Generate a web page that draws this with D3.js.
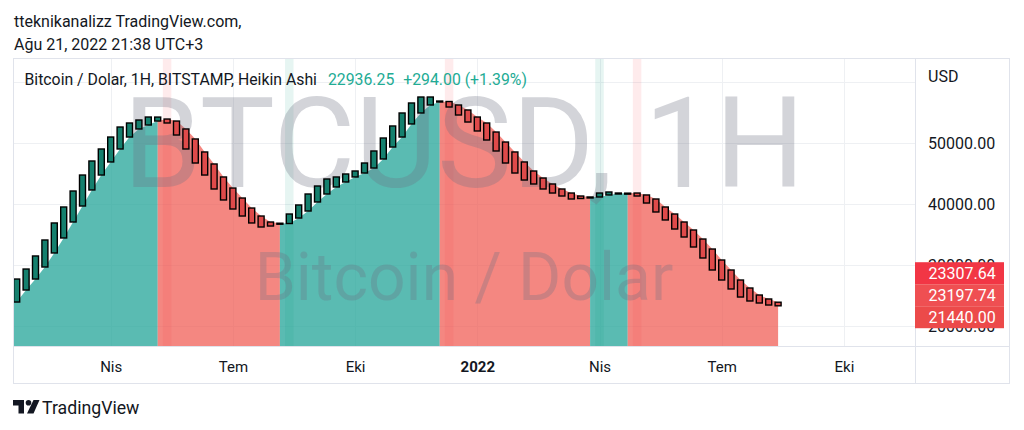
<!DOCTYPE html>
<html><head><meta charset="utf-8">
<script src="https://cdn.jsdelivr.net/npm/d3@7"></script>
<style>
html,body{margin:0;padding:0;background:#fff;}
svg{display:block;font-family:Roboto,"Noto Sans",sans-serif;}
</style></head><body>
<svg id="c" width="1024" height="430"></svg>
<script>
// ---------- data ----------
const weeks = [
"2021-01-25","2021-02-01","2021-02-08","2021-02-15","2021-02-22","2021-03-01","2021-03-08","2021-03-15","2021-03-22","2021-03-29",
"2021-04-05","2021-04-12","2021-04-19","2021-04-26","2021-05-03","2021-05-10","2021-05-17","2021-05-24","2021-05-31","2021-06-07",
"2021-06-14","2021-06-21","2021-06-28","2021-07-05","2021-07-12","2021-07-19","2021-07-26","2021-08-02","2021-08-09","2021-08-16",
"2021-08-23","2021-08-30","2021-09-06","2021-09-13","2021-09-20","2021-09-27","2021-10-04","2021-10-11","2021-10-18","2021-10-25",
"2021-11-01","2021-11-08","2021-11-15","2021-11-22","2021-11-29","2021-12-06","2021-12-13","2021-12-20","2021-12-27","2022-01-03",
"2022-01-10","2022-01-17","2022-01-24","2022-01-31","2022-02-07","2022-02-14","2022-02-21","2022-02-28","2022-03-07","2022-03-14",
"2022-03-21","2022-03-28","2022-04-04","2022-04-11","2022-04-18","2022-04-25","2022-05-02","2022-05-09","2022-05-16","2022-05-23",
"2022-05-30","2022-06-06","2022-06-13","2022-06-20","2022-06-27","2022-07-04","2022-07-11","2022-07-18","2022-07-25","2022-08-01",
"2022-08-08","2022-08-15"];
const haOpen = [
23930,25900,27700,29670,31970,34430,37050,39670,42300,44750,
46890,49020,50980,52300,52950,53600,53930,53600,52300,50660,
48530,46560,44430,42620,40980,39340,38030,37050,36850,36800,
37700,38850,40330,41640,42790,43610,44430,45080,45900,47380,
49340,50980,53120,54920,56230,56720,56800,56230,55410,54260,
53280,51800,50160,48530,46890,45410,44260,43280,42460,41800,
41310,41150,41150,41480,41720,41760,41800,41480,40820,39510,
38360,37050,35740,34260,32620,30820,29180,27540,26230,25080,
24430,23900];
const haClose = [
27700,29340,31480,34100,36890,39510,42130,44750,47050,49020,
50980,52620,53280,53770,54260,54250,53280,51310,49020,46720,
44750,42460,40660,39180,38030,36890,36230,36390,36720,38360,
39840,41640,42950,44100,44430,44920,45410,46720,48690,50820,
52790,54920,56560,57540,57540,56880,55900,54590,53440,51970,
50490,48690,46720,45080,43930,43280,42460,41800,41310,40820,
40900,41070,41800,41970,41800,41780,41310,40160,38690,37380,
35900,34590,32950,31150,29180,27540,26070,24750,24100,23770,
23440,23310];
const signalWeeks = ["2021-05-17","2021-08-16","2021-12-13","2022-04-04","2022-05-02"];
const signalDirs = ["down","up","down","up","down"];
const gridPrices = [60000,50000,40000,30000,20000];
const priceTickValues = [50000,40000,30000,20000];
const timeTickDates = ["2021-04-05","2021-07-05","2021-10-04","2022-01-03","2022-04-04","2022-07-04","2022-10-03"];
const timeTickLabels = ["Nis","Tem","Eki","2022","Nis","Tem","Eki"];
const priceTags = [23307.64, 23197.74, 21440.00];
const headerLines = ["tteknikanalizz TradingView.com,","Ağu 21, 2022 21:38 UTC+3"];
const legendTitle = "Bitcoin / Dolar, 1H, BITSTAMP, Heikin Ashi";
const legendLast = "22936.25";
const legendChange = "+294.00 (+1.39%)";
const watermark1 = "BTCUSD, 1H";
const watermark2 = "Bitcoin / Dolar";

// ---------- layout ----------
const paneL=13, paneR=915, paneT=58, paneB=346, axisB=384, frameR=1010;
const txt="#131722", borderCol="#e0e3eb", gridCol="#eef0f3";
const upFill="#15806e", downFill="#df4a4a";
const upArea="rgba(38,166,154,0.76)", downArea="rgba(240,84,76,0.70)";
const parse = d3.utcParse("%Y-%m-%d");
const svg = d3.select("#c");

const data = weeks.map((w,i)=>({date:parse(w), open:haOpen[i], close:haClose[i]}));
const isUp = d=>d.close>=d.open;

const x = d3.scaleUtc().domain([data[0].date, data[data.length-1].date]).range([paneL+3.7, paneL+3.7+9.4*(data.length-1)]);
const y = d3.scaleLinear().domain([20000,50000]).range([326,143]);
const step = x(data[1].date)-x(data[0].date);

svg.append("defs").append("clipPath").attr("id","pane")
  .append("rect").attr("x",paneL).attr("y",paneT).attr("width",paneR-paneL).attr("height",paneB-paneT);

// grid
const g = svg.append("g").attr("clip-path","url(#pane)");
g.selectAll("line.h").data(gridPrices).join("line").attr("class","h")
  .attr("x1",paneL).attr("x2",paneR).attr("y1",d=>Math.round(y(d))+0.5).attr("y2",d=>Math.round(y(d))+0.5)
  .attr("stroke",gridCol).attr("stroke-width",1);
g.selectAll("line.v").data(timeTickDates.map(parse)).join("line").attr("class","v")
  .attr("y1",paneT).attr("y2",paneB).attr("x1",d=>Math.round(x(d))+0.5).attr("x2",d=>Math.round(x(d))+0.5)
  .attr("stroke",gridCol).attr("stroke-width",1);

// area runs, coloured by direction of the next bar
const runs=[]; let cur=null;
for(let i=0;i<data.length-1;i++){
  const col = isUp(data[i+1])?"up":"down";
  if(!cur||cur.col!==col){cur={col,pts:[data[i]]};runs.push(cur);}
  cur.pts.push(data[i+1]);
}
runs[0].pts.unshift({date:x.invert(paneL), open:data[0].open});
const area = d3.area().x(d=>x(d.date)).y0(paneB).y1(d=>y(d.open));
g.selectAll("path.area").data(runs).join("path").attr("class","area")
  .attr("d",r=>area(r.pts)).attr("fill",r=>r.col==="up"?upArea:downArea);

// signal stripes
g.selectAll("rect.sig").data(signalWeeks.map((w,i)=>({date:parse(w),dir:signalDirs[i]}))).join("rect").attr("class","sig")
  .attr("x",d=>x(d.date)-step*0.45).attr("width",step*0.9).attr("y",paneT).attr("height",paneB-paneT)
  .attr("fill",d=>d.dir==="up"?"rgba(8,153,129,0.10)":"rgba(242,54,69,0.10)");

// watermark
const wm = g.append("g").attr("fill","rgba(110,114,128,0.30)").attr("text-anchor","middle");
wm.append("text").attr("x",(paneL+paneR)/2).attr("y",187).attr("font-size",126).text(watermark1);
wm.append("text").attr("x",(paneL+paneR)/2).attr("y",300).attr("font-size",66).text(watermark2);

// candles
g.selectAll("rect.c").data(data).join("rect").attr("class","c")
  .attr("x",d=>x(d.date)-3).attr("width",6)
  .attr("y",d=>y(Math.max(d.open,d.close)))
  .attr("height",d=>Math.max(Math.abs(y(d.open)-y(d.close)),1))
  .attr("fill",d=>isUp(d)?upFill:downFill)
  .attr("stroke","#000").attr("stroke-width",1.4);

// frame
const fr = svg.append("g").attr("stroke",borderCol).attr("fill","none").attr("stroke-width",1);
fr.append("rect").attr("x",paneL+0.5).attr("y",paneT+0.5).attr("width",frameR-paneL-1).attr("height",axisB-paneT-1);
fr.append("line").attr("x1",paneL).attr("x2",frameR).attr("y1",paneB+0.5).attr("y2",paneB+0.5);
fr.append("line").attr("x1",paneR+0.5).attr("x2",paneR+0.5).attr("y1",paneT).attr("y2",axisB);

// price axis
const ya = svg.append("g").attr("transform",`translate(${paneR},0)`)
  .call(d3.axisRight(y).tickValues(priceTickValues).tickFormat(d3.format(".2f")).tickSize(0).tickPadding(13));
ya.select(".domain").remove();
ya.selectAll("text").attr("font-size",16).attr("fill",txt).attr("font-family","Roboto");
svg.append("text").attr("x",928).attr("y",81.5).attr("font-size",16).attr("fill",txt).text("USD");

// price tags stacked upward from the lowest
const tagCols=["#f23645","#ef4f52","#ec4a4a"];
const tagH=22;
const baseY=y(priceTags[priceTags.length-1]);
const tags = svg.append("g");
priceTags.forEach((p,i)=>{
  const cy = baseY-(priceTags.length-1-i)*tagH;
  tags.append("rect").attr("x",paneR).attr("y",cy-tagH/2).attr("width",89).attr("height",tagH).attr("fill",tagCols[i]);
  tags.append("text").attr("x",928.5).attr("y",cy+6).attr("font-size",16).attr("fill","#fff").text(d3.format(".2f")(p));
});

// time axis
const xa = svg.append("g").attr("transform",`translate(0,${paneB})`)
  .call(d3.axisBottom(x).tickValues(timeTickDates.map(parse)).tickFormat((d,i)=>timeTickLabels[i]).tickSize(0).tickPadding(12));
xa.select(".domain").remove();
xa.selectAll("text").attr("font-size",15).attr("fill",txt).attr("font-family","Roboto")
  .attr("font-weight",(d,i)=>timeTickLabels[i]==="2022"?700:400).attr("dy","0.9em");

// header
headerLines.forEach((t,i)=>svg.append("text").attr("x",14).attr("y",27+i*22.5).attr("font-size",16).attr("fill",txt).text(t));

// legend
const lg = svg.append("text").attr("x",24.5).attr("y",85).attr("font-size",15.8).attr("fill",txt).text(legendTitle);
const lw = lg.node().getComputedTextLength();
const lv = svg.append("text").attr("x",24.5+lw+11).attr("y",85).attr("font-size",15.8).attr("fill","#22ab94").text(legendLast);
const lvw = lv.node().getComputedTextLength();
svg.append("text").attr("x",24.5+lw+11+lvw+9).attr("y",85).attr("font-size",15.8).attr("fill","#22ab94").text(legendChange);

// footer logo
const logo = svg.append("g").attr("transform","translate(13,400)").attr("fill","#131722");
logo.append("path").attr("d","M0,0 H11 V13.5 H5.5 V5.5 H0 Z");
logo.append("circle").attr("cx",15.5).attr("cy",2.8).attr("r",2.8);
logo.append("path").attr("d","M20.5,0 H26.5 L20.5,13.5 H14 Z");
svg.append("text").attr("x",42).attr("y",414).attr("font-size",17.7).attr("fill",txt).text("TradingView");
</script>
</body></html>
